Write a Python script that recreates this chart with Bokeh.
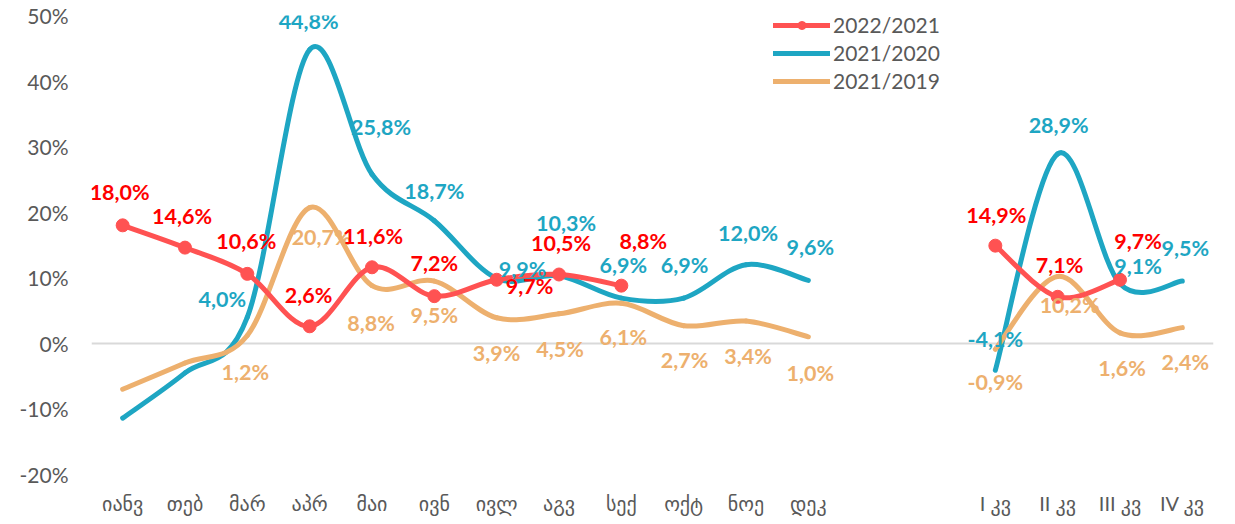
import numpy as np
from bokeh.plotting import figure
from bokeh.models import (ColumnDataSource, FixedTicker, Legend, LegendItem,
                          Range1d, PrintfTickFormatter)
from bokeh.core.properties import value
from bokeh.embed import file_html
from bokeh.resources import INLINE

# ---------------- data ----------------
months = ["იანვ", "თებ", "მარ", "აპრ", "მაი", "ივნ", "ივლ", "აგვ", "სექ", "ოქტ", "ნოე", "დეკ"]
quarters = ["I კვ", "II კვ", "III კვ", "IV კვ"]
series_names = ["2022/2021", "2021/2020", "2021/2019"]

r_months = [18.0, 14.6, 10.6, 2.6, 11.6, 7.2, 9.7, 10.5, 8.8]
r_quarters = [14.9, 7.1, 9.7]
b_months = [-11.4, -4.5, 4.0, 44.8, 25.8, 18.7, 9.9, 10.3, 6.9, 6.9, 12.0, 9.6]
b_quarters = [-4.1, 28.9, 9.1, 9.5]
o_months = [-7.0, -3.0, 1.2, 20.7, 8.8, 9.5, 3.9, 4.5, 6.1, 2.7, 3.4, 1.0]
o_quarters = [-0.9, 10.2, 1.6, 2.4]

# which points carry a data label (blue/orange Jan, Feb unlabeled)
b_month_labeled = [False, False] + [True] * 10
o_month_labeled = [False, False] + [True] * 10

# ---------------- label offsets (screen px, dx, dy) ----------------
r_m_off = [(-3, -33), (-3, -32), (-1, -33), (-1, -31), (1, -31), (0, -33), (33, 6), (2, -32), (22, -45)]
r_q_off = [(1, -31), (2, -32), (18, -39)]
b_m_off = [(0, 0), (0, 0), (-25, -18), (-1, -29), (9, -47), (0, -30), (26, -9), (7, -53),
           (2, -33), (1, -33), (2, -32), (2, -33)]
b_q_off = [(0, -31), (1, -29), (18, -18), (3, -33)]
o_m_off = [(0, 0), (0, 0), (-2, 37), (12, 29), (-1, 37), (0, 34), (0, 35), (1, 35),
           (2, 34), (1, 34), (2, 35), (2, 36)]
o_q_off = [(0, 33), (12, 29), (2, 35), (3, 34)]

GAP = 2
x_months = list(range(len(months)))
x_quarters = [len(months) + GAP + i for i in range(len(quarters))]

RED, RED_TXT = "#FF5252", "#FF0000"
BLUE = "#1EA6C3"
ORANGE = "#EDB06E"
GRAY = "#595959"
FONT = "Lato"


def bezier_source(xs, ys):
    """Catmull-Rom style control points (Excel smoothed line) in data space."""
    n = len(xs)
    P = np.column_stack([np.asarray(xs, float), np.asarray(ys, float)])
    d = dict(x0=[], y0=[], x1=[], y1=[], cx0=[], cy0=[], cx1=[], cy1=[])
    for i in range(n - 1):
        pm = P[i - 1] if i > 0 else P[i]
        p0, p1 = P[i], P[i + 1]
        p2 = P[i + 2] if i + 2 < n else P[i + 1]
        c0 = p0 + (p1 - pm) / 6.0
        c1 = p1 - (p2 - p0) / 6.0
        d["x0"].append(p0[0]); d["y0"].append(p0[1])
        d["x1"].append(p1[0]); d["y1"].append(p1[1])
        d["cx0"].append(c0[0]); d["cy0"].append(c0[1])
        d["cx1"].append(c1[0]); d["cy1"].append(c1[1])
    return ColumnDataSource(d)


def fmt(v):
    return f"{v:.1f}".replace(".", ",") + "%"


def label_source(xs, ys, offs, mask=None):
    if mask is None:
        mask = [True] * len(xs)
    d = dict(x=[], y=[], t=[], dx=[], dy=[])
    for x, y, o, m in zip(xs, ys, offs, mask):
        if m:
            d["x"].append(x); d["y"].append(y); d["t"].append(fmt(y))
            d["dx"].append(o[0]); d["dy"].append(o[1])
    return ColumnDataSource(d)


p = figure(frame_width=1122, frame_height=459, output_backend="svg", toolbar_location=None,
           x_range=Range1d(-0.5, len(months) + GAP + len(quarters) - 0.5),
           y_range=Range1d(-20, 50),
           min_border_left=91, min_border_right=6, min_border_top=15, min_border_bottom=10)
p.outline_line_color = None
p.background_fill_color = "white"
p.border_fill_color = "white"

# axes
p.xaxis.ticker = FixedTicker(ticks=x_months + x_quarters)
p.xaxis.major_label_overrides = {x: lab for x, lab in zip(x_months + x_quarters, months + quarters)}
p.yaxis.ticker = FixedTicker(ticks=list(range(-20, 51, 10)))
p.yaxis.formatter = PrintfTickFormatter(format="%d%%")
for ax in (p.xaxis[0], p.yaxis[0]):
    ax.axis_line_color = None
    ax.major_tick_line_color = None
    ax.minor_tick_line_color = None
    ax.major_tick_out = 0
    ax.major_tick_in = 0
    ax.major_label_text_color = GRAY
p.yaxis.major_label_text_font = FONT
p.yaxis.major_label_text_font_size = "21px"
p.yaxis.major_label_standoff = 23
p.xaxis.major_label_text_font = "Lato, DejaVu Sans"
p.xaxis.major_label_text_font_size = "20px"
p.xaxis.major_label_text_line_height = 1.0
p.xaxis.major_label_standoff = 16
p.xgrid.grid_line_color = None
p.ygrid.ticker = FixedTicker(ticks=[0])
p.ygrid.grid_line_color = "#D9D9D9"
p.ygrid.grid_line_width = 2

# lines
for xs, ys, col in [(x_months, b_months, BLUE), (x_quarters, b_quarters, BLUE),
                    (x_months, o_months, ORANGE), (x_quarters, o_quarters, ORANGE),
                    (x_months[:len(r_months)], r_months, RED),
                    (x_quarters[:len(r_quarters)], r_quarters, RED)]:
    src = bezier_source(xs, ys)
    p.bezier(x0="x0", y0="y0", x1="x1", y1="y1", cx0="cx0", cy0="cy0", cx1="cx1", cy1="cy1",
             source=src, line_color=col, line_width=5, line_cap="round")

p.scatter(x=x_months[:len(r_months)] + x_quarters[:len(r_quarters)], y=r_months + r_quarters,
          size=13, marker="circle", fill_color=RED, line_color=RED)

# data labels
lab_sets = [
    (label_source(x_months, o_months, o_m_off, o_month_labeled), ORANGE),
    (label_source(x_quarters, o_quarters, o_q_off), ORANGE),
    (label_source(x_months, b_months, b_m_off, b_month_labeled), BLUE),
    (label_source(x_quarters, b_quarters, b_q_off), BLUE),
    (label_source(x_months[:len(r_months)], r_months, r_m_off), RED_TXT),
    (label_source(x_quarters[:len(r_quarters)], r_quarters, r_q_off), RED_TXT),
]
for src, col in lab_sets:
    p.text(x="x", y="y", text="t", x_offset="dx", y_offset="dy", source=src,
           text_align="center", text_baseline="middle", text_font=value(FONT),
           text_font_style="bold", text_font_size="21.5px", text_color=col)

# legend (proxy renderers)
lr = p.line(x=[np.nan], y=[np.nan], line_color=RED, line_width=5, line_cap="round")
lrm = p.scatter(x=[np.nan], y=[np.nan], size=13, marker="circle", fill_color=RED, line_color=RED)
lb = p.line(x=[np.nan], y=[np.nan], line_color=BLUE, line_width=5, line_cap="round")
lo = p.line(x=[np.nan], y=[np.nan], line_color=ORANGE, line_width=5, line_cap="round")
legend = Legend(items=[LegendItem(label=series_names[0], renderers=[lr, lrm]),
                       LegendItem(label=series_names[1], renderers=[lb]),
                       LegendItem(label=series_names[2], renderers=[lo])],
                location=(682, 381), padding=0, margin=0, spacing=3,
                glyph_width=57, glyph_height=20, label_height=20, label_standoff=3,
                label_text_font=FONT, label_text_font_size="21px", label_text_color=GRAY,
                border_line_color=None, background_fill_alpha=0)
p.add_layout(legend, "center")

open("out.html", "w").write(file_html(p, INLINE))
